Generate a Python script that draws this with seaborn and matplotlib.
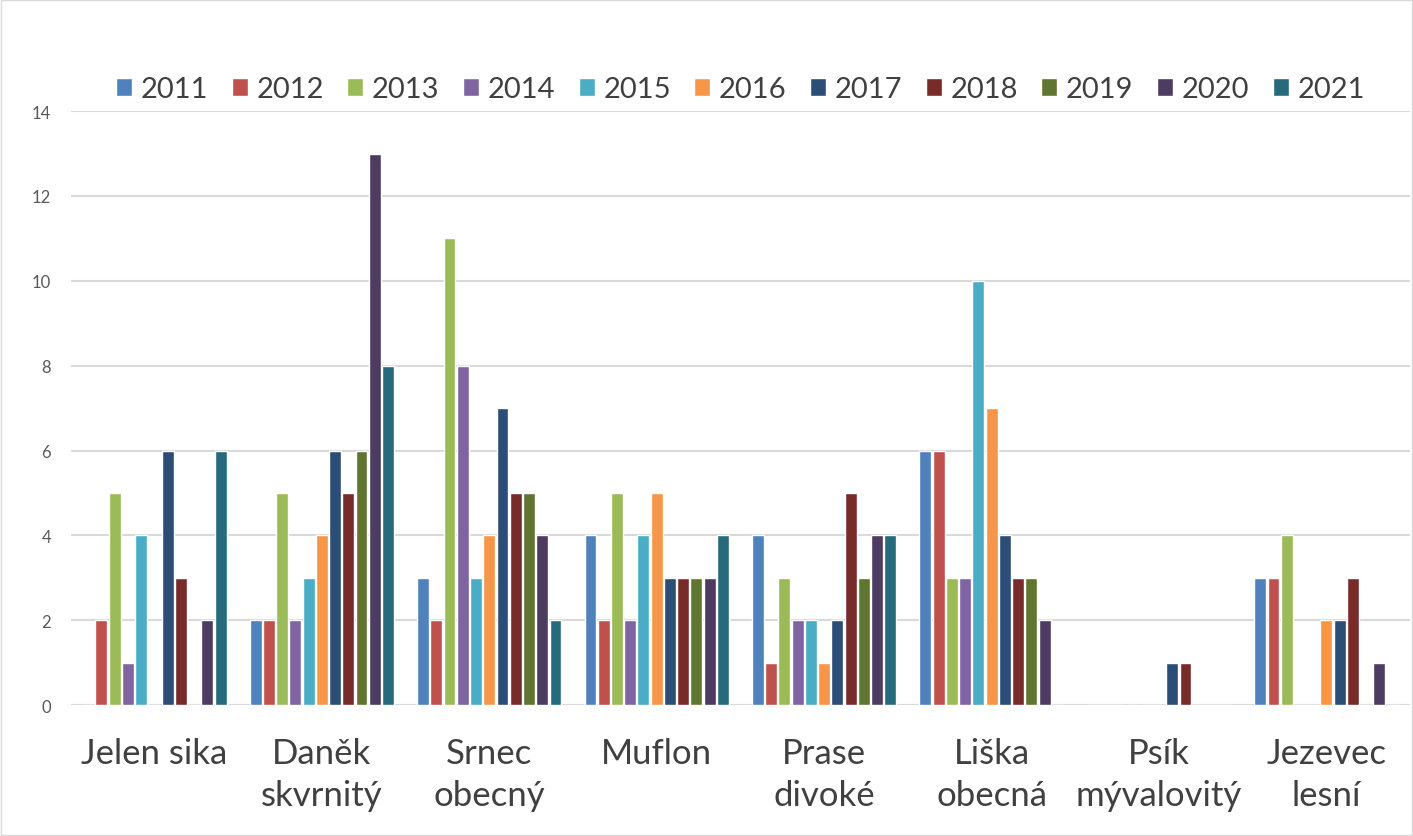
import numpy as np
import pandas as pd
import seaborn as sns
import matplotlib.pyplot as plt

# Data
species = ["Jelen sika", "Daněk\nskvrnitý", "Srnec\nobecný", "Muflon",
           "Prase\ndivoké", "Liška\nobecná", "Psík\nmývalovitý", "Jezevec\nlesní"]
years = ["2011", "2012", "2013", "2014", "2015", "2016",
         "2017", "2018", "2019", "2020", "2021"]

jelen_sika = [0, 2, 5, 1, 4, 0, 6, 3, 0, 2, 6]
danek = [2, 2, 5, 2, 3, 4, 6, 5, 6, 13, 8]
srnec = [3, 2, 11, 8, 3, 4, 7, 5, 5, 4, 2]
muflon = [4, 2, 5, 2, 4, 5, 3, 3, 3, 3, 4]
prase = [4, 1, 3, 2, 2, 1, 2, 5, 3, 4, 4]
liska = [6, 6, 3, 3, 10, 7, 4, 3, 3, 2, 0]
psik = [0, 0, 0, 0, 0, 0, 1, 1, 0, 0, 0]
jezevec = [3, 3, 4, 0, 0, 2, 2, 3, 0, 1, 0]

colors = ["#4f81bd", "#c0504d", "#9bbb59", "#8064a2", "#4bacc6", "#f79646",
          "#2c4d75", "#772c2a", "#5f7530", "#4d3b62", "#276a7c"]

rows = []
for sp, vals in zip(species, [jelen_sika, danek, srnec, muflon, prase, liska, psik, jezevec]):
    for yr, v in zip(years, vals):
        rows.append({"species": sp, "year": yr, "count": v})
df = pd.DataFrame(rows)

sns.set_style("white")
plt.rcParams["font.family"] = ["Lato", "DejaVu Sans"]

fig = plt.figure(figsize=(14.13, 8.37), dpi=100)
ax = fig.add_axes([0.05, 0.1565, 0.948, 0.7095])

sns.barplot(data=df, x="species", y="count", hue="year", palette=colors,
            width=0.87, gap=0.1, saturation=1, ax=ax, legend=True)

ax.set_ylim(0, 14)
ax.set_yticks(range(0, 15, 2))
ax.yaxis.grid(True, color="#d9d9d9", linewidth=1.5)
ax.set_axisbelow(True)
for s in ax.spines.values():
    s.set_visible(False)
ax.axhline(0, color="#d9d9d9", linewidth=1.5, zorder=0)
ax.set_xlabel("")
ax.set_ylabel("")
ax.tick_params(axis="y", labelsize=12, colors="#595959", length=0, pad=14)
ax.tick_params(axis="x", labelsize=25, colors="#404040", length=0, pad=23)
for t in ax.get_xticklabels():
    t.set_verticalalignment("top")
    t.set_linespacing(1.38)

handles, labels = ax.get_legend_handles_labels()
ax.legend(handles, labels, loc="center", bbox_to_anchor=(0.5, 1.037),
          ncol=11, frameon=False, fontsize=21, handlelength=0.55,
          handleheight=0.55, handletextpad=0.3, columnspacing=0.8,
          labelcolor="#404040")

fig.patches.append(plt.Rectangle((0.001, 0.001), 0.998, 0.998, transform=fig.transFigure,
                                 fill=False, edgecolor="#d9d9d9", linewidth=1))

fig.savefig("out.png", dpi=100)
